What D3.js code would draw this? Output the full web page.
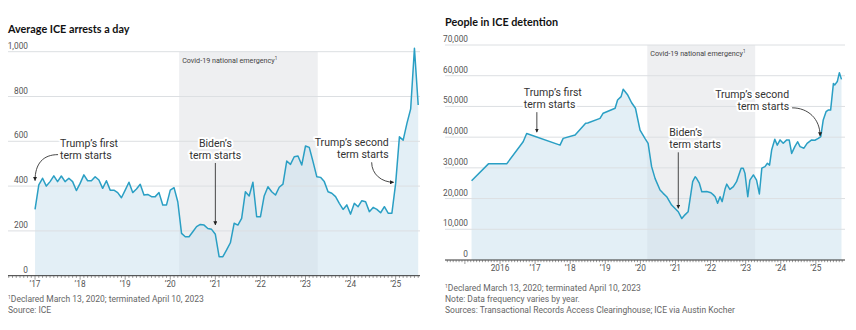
<!DOCTYPE html>
<html>
<head>
<meta charset="utf-8">
<style>
  body { margin: 0; background: #fff; }
  svg text { font-family: Roboto, "Noto Sans", sans-serif; }
  .title { font-family: Lato, Roboto, sans-serif; font-weight: bold; font-size: 10.8px; fill: #111; }
  .ylab { font-size: 8.3px; fill: #555; }
  .xlab { font-size: 8.3px; fill: #555; }
  .note { font-size: 8.5px; fill: #666; }
  .annot { font-size: 10.5px; fill: #333; paint-order: stroke; stroke: #fff; stroke-width: 4px; stroke-linejoin: round; }
  .covid { font-size: 7.2px; fill: #444; }
</style>
</head>
<body>
<script src="https://d3js.org/d3.v7.min.js"></script>
<script>
var width = 856, height = 330;

// monthly average ICE arrests per day, Jan 2017 onwards
var arrestStart = 2017;
var arrestValues = [
  296, 405, 435, 400, 420, 446, 420, 445, 420, 435, 420, 380,
  412, 450, 424, 424, 442, 427, 390, 424, 382, 382, 371, 348,
  382, 417, 371, 387, 408, 360, 363, 353, 353, 371, 316, 316,
  382, 393, 330, 189, 174, 174, 196, 219, 229, 226, 211, 207,
  185, 85, 85, 115, 147, 234, 226, 256, 375, 356, 417, 263,
  263, 356, 397, 375, 360, 395, 409, 512, 497, 531, 534, 494,
  579, 573, 509, 442, 439, 420, 375, 368, 353, 323, 296, 316,
  275, 323, 308, 335, 330, 286, 305, 296, 281, 308, 279, 279,
  412, 620, 605, 680, 745, 1015, 762
];
var arrestYTicks = [0, 200, 400, 600, 800, 1000];
var arrestXTicks = [2017, 2018, 2019, 2020, 2021, 2022, 2023, 2024, 2025];
var arrestXLabels = ["’17", "’18", "’19", "’20", "’21", "’22", "’23", "’24", "’25"];

// people in ICE detention (irregular dates, decimal years)
var detentionDates = [
  2015.19, 2015.67, 2016.19, 2016.66, 2016.76, 2017.71, 2017.80, 2018.14, 2018.44, 2018.50,
  2018.85, 2018.94, 2019.28, 2019.35, 2019.45, 2019.51, 2019.64, 2019.75, 2019.86, 2019.99,
  2020.13, 2020.22, 2020.32, 2020.42, 2020.56, 2020.65, 2020.75, 2020.89, 2021.03, 2021.08,
  2021.18, 2021.27, 2021.36, 2021.44, 2021.49, 2021.56, 2021.60, 2021.68, 2021.75, 2021.89,
  2022.01, 2022.08, 2022.13, 2022.20, 2022.27, 2022.33, 2022.41, 2022.46, 2022.55, 2022.65,
  2022.74, 2022.87, 2022.93, 2022.98, 2023.06, 2023.12, 2023.22, 2023.31, 2023.39, 2023.46,
  2023.55, 2023.62, 2023.68, 2023.74, 2023.83, 2023.90, 2023.98, 2024.07, 2024.17, 2024.24,
  2024.31, 2024.40, 2024.48, 2024.55, 2024.66, 2024.75, 2024.88, 2024.97, 2025.07, 2025.14,
  2025.21, 2025.29, 2025.35, 2025.42, 2025.50, 2025.54, 2025.61, 2025.67, 2025.73
];
var detentionValues = [
  25800, 31300, 31300, 38500, 41200, 37400, 39600, 40700, 44500, 44600,
  46100, 47800, 49400, 52100, 53200, 55600, 53700, 51200, 49400, 42300,
  39600, 38000, 30400, 26500, 22800, 21700, 20600, 17900, 16300, 15700,
  13500, 14700, 15700, 21700, 25500, 27100, 26600, 25000, 22200, 22300,
  21900, 21200, 20600, 18500, 20600, 19000, 23000, 24700, 23000, 23900,
  25500, 29900, 29900, 28200, 20600, 26000, 27700, 26000, 21500, 29900,
  30400, 31500, 30900, 35800, 39300, 37400, 39100, 38000, 39100, 39100,
  34700, 36900, 38500, 36900, 36400, 38000, 39100, 39000, 39600, 40200,
  45600, 48300, 48800, 48800, 57500, 57000, 58100, 61000, 58800
];
var detentionYTicks = [0, 10000, 20000, 30000, 40000, 50000, 60000, 70000];
var detentionXTicks = [2016, 2017, 2018, 2019, 2020, 2021, 2022, 2023, 2024, 2025];
var detentionXLabels = ["2016", "’17", "’18", "’19", "’20", "’21", "’22", "’23", "’24", "’25"];

// Covid-19 national emergency: March 13, 2020 to April 10, 2023
var covidStart = 2020 + 72 / 366, covidEnd = 2023 + 99 / 365;

var svg = d3.select("body").append("svg")
    .attr("width", width)
    .attr("height", height);

var defs = svg.append("defs");
defs.append("marker")
    .attr("id", "head")
    .attr("viewBox", "0 0 10 10")
    .attr("refX", 9).attr("refY", 5)
    .attr("markerWidth", 4.5).attr("markerHeight", 4.5)
    .attr("orient", "auto")
  .append("path")
    .attr("d", "M0,0L10,5L0,10z")
    .attr("fill", "#222");

function drawPanel(p) {
  var g = svg.append("g");
  var x = d3.scaleLinear().domain(p.xDomain).range(p.xRange);
  var y = d3.scaleLinear().domain([0, p.yMax]).range(p.yRange);

  var pts = p.dates.map(function(d, i) { return [d, p.values[i]]; });

  g.append("text").attr("class", "title")
      .attr("x", p.xRange[0]).attr("y", p.titleY)
      .text(p.title);

  // covid band
  g.append("rect")
      .attr("x", x(covidStart)).attr("y", y(p.yMax))
      .attr("width", x(covidEnd) - x(covidStart))
      .attr("height", y(0) - y(p.yMax))
      .attr("fill", "#eeeff1");

  // area
  var area = d3.area()
      .x(function(d) { return x(d[0]); })
      .y0(y(0))
      .y1(function(d) { return y(d[1]); });
  g.append("path").datum(pts)
      .attr("d", area)
      .attr("fill", "#c7dfee")
      .attr("fill-opacity", 0.5);

  // gridlines
  g.selectAll(".grid").data(p.yTicks.slice(1)).enter().append("line")
      .attr("x1", p.xRange[0]).attr("x2", p.xRange[1])
      .attr("y1", function(d) { return y(d); })
      .attr("y2", function(d) { return y(d); })
      .attr("stroke", "#dcdfe2")
      .attr("stroke-width", 1);

  g.selectAll(".ylab").data(p.yTicks).enter().append("text")
      .attr("class", "ylab")
      .attr("x", p.yLabelX)
      .attr("y", function(d) { return y(d) - 3; })
      .attr("text-anchor", "end")
      .text(function(d) { return d3.format(",")(d); });

  g.append("text").attr("class", "covid")
      .attr("x", x(covidStart) + 3).attr("y", y(p.yMax) + 11)
      .text("Covid-19 national emergency")
    .append("tspan")
      .attr("dy", -3).style("font-size", "4.5px")
      .text("1");

  // line
  g.append("path").datum(pts)
      .attr("d", d3.line().x(function(d) { return x(d[0]); }).y(function(d) { return y(d[1]); }))
      .attr("fill", "none")
      .attr("stroke", "#2a9fc4")
      .attr("stroke-width", 1.5)
      .attr("stroke-linejoin", "round");

  // x axis with monthly ticks
  var base = y(0);
  g.append("line")
      .attr("x1", p.xRange[0]).attr("x2", p.xRange[1])
      .attr("y1", base).attr("y2", base)
      .attr("stroke", "#333").attr("stroke-width", 1);
  var months = d3.range(Math.ceil(p.xDomain[0] * 12), Math.floor(p.xDomain[1] * 12) + 1)
      .map(function(m) { return m / 12; });
  g.selectAll(".mt").data(months).enter().append("line")
      .attr("x1", function(d) { return x(d); })
      .attr("x2", function(d) { return x(d); })
      .attr("y1", base)
      .attr("y2", function(d) { return Math.abs(d - Math.round(d)) < 1e-6 ? base + 4 : base + 2.2; })
      .attr("stroke", "#555").attr("stroke-width", 0.6);
  g.selectAll(".xlab").data(p.xTicks).enter().append("text")
      .attr("class", "xlab")
      .attr("x", function(d) { return x(d); })
      .attr("y", base + 11)
      .attr("text-anchor", "middle")
      .text(function(d, i) { return p.xLabels[i]; });

  // footnotes
  g.selectAll(".note").data(p.notes).enter().append("text")
      .attr("class", "note")
      .attr("x", p.xRange[0])
      .attr("y", function(d, i) { return p.noteY + i * 11; })
      .each(function(d, i) {
        var t = d3.select(this);
        if (i === 0) {
          t.append("tspan").attr("dy", -3).style("font-size", "5px").text("1");
          t.append("tspan").attr("dy", 3).text(d);
        } else {
          t.text(d);
        }
      });

  // annotations
  p.annots.forEach(function(a) {
    var tx = x(a.at[0]), ty = y(a.at[1]);
    var t = g.append("text").attr("class", "annot")
        .attr("text-anchor", a.anchor);
    a.lines.forEach(function(s, i) {
      t.append("tspan")
          .attr("x", tx + a.tx)
          .attr("y", ty + a.ty + i * 12)
          .text(s);
    });
    g.append("path")
        .attr("d", a.path(tx, ty))
        .attr("fill", "none")
        .attr("stroke", "#333")
        .attr("stroke-width", 0.9)
        .attr("marker-end", "url(#head)");
  });
}

drawPanel({
  title: "Average ICE arrests a day",
  titleY: 33,
  xDomain: [2016.40, 2025.54],
  xRange: [8, 420],
  yMax: 1000,
  yRange: [275.7, 51.7],
  yTicks: arrestYTicks,
  yLabelX: 28,
  dates: arrestValues.map(function(v, i) { return arrestStart + i / 12; }),
  values: arrestValues,
  xTicks: arrestXTicks,
  xLabels: arrestXLabels,
  noteY: 302,
  notes: ["Declared March 13, 2020; terminated April 10, 2023", "Source: ICE"],
  annots: [
    { at: [2017, 420], lines: ["Trump’s first", "term starts"], anchor: "start", tx: 25, ty: -35,
      path: function(x, y) { return "M" + (x + 23) + "," + (y - 27) + "C" + (x + 8) + "," + (y - 27) + " " + x + "," + (y - 18) + " " + x + "," + (y - 1); } },
    { at: [2021, 222], lines: ["Biden’s", "term starts"], anchor: "middle", tx: 0, ty: -79,
      path: function(x, y) { return "M" + x + "," + (y - 63) + "L" + x + "," + (y - 1); } },
    { at: [2025, 417], lines: ["Trump’s second", "term starts"], anchor: "end", tx: -7, ty: -36,
      path: function(x, y) { return "M" + (x - 24) + "," + (y - 20) + "C" + (x - 24) + "," + (y - 8) + " " + (x - 14) + "," + y + " " + (x - 2) + "," + y; } }
  ]
});

drawPanel({
  title: "People in ICE detention",
  titleY: 26,
  xDomain: [2014.433, 2025.83],
  xRange: [445, 845],
  yMax: 70000,
  yRange: [260, 45],
  yTicks: detentionYTicks,
  yLabelX: 468,
  dates: detentionDates,
  values: detentionValues,
  xTicks: detentionXTicks,
  xLabels: detentionXLabels,
  noteY: 290.5,
  notes: ["Declared March 13, 2020; terminated April 10, 2023", "Note: Data frequency varies by year.",
          "Sources: Transactional Records Access Clearinghouse; ICE via Austin Kocher"],
  annots: [
    { at: [2017.05, 41300], lines: ["Trump’s first", "term starts"], anchor: "start", tx: -13, ty: -37,
      path: function(x, y) { return "M" + x + "," + (y - 21) + "L" + x + "," + (y - 1); } },
    { at: [2021.08, 16500], lines: ["Biden’s", "term starts"], anchor: "start", tx: -9, ty: -73,
      path: function(x, y) { return "M" + x + "," + (y - 57) + "L" + x + "," + (y - 1); } },
    { at: [2025.12, 40100], lines: ["Trump’s second", "term starts"], anchor: "end", tx: -31, ty: -39,
      path: function(x, y) { return "M" + (x - 28) + "," + (y - 29) + "C" + (x - 12) + "," + (y - 29) + " " + x + "," + (y - 18) + " " + x + "," + (y - 1); } }
  ]
});
</script>
</body>
</html>
